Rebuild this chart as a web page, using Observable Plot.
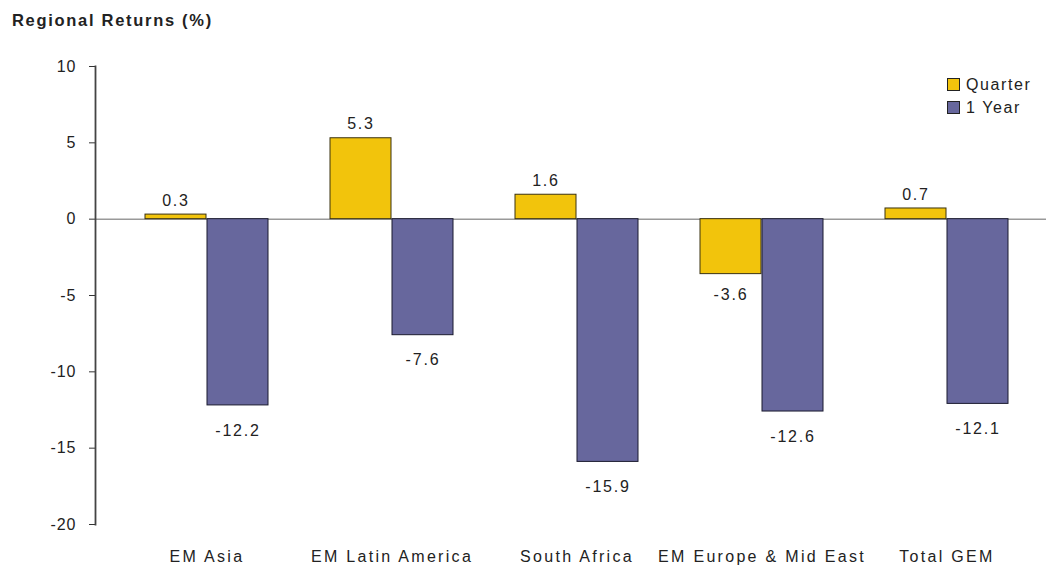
<!DOCTYPE html>
<html>
<head>
<meta charset="utf-8">
<script src="https://cdn.jsdelivr.net/npm/d3@7"></script>
<script src="https://cdn.jsdelivr.net/npm/@observablehq/plot@0.6"></script>
<style>
  html, body { margin: 0; padding: 0; background: #fff; }
  #wrap { position: relative; width: 1046px; height: 569px; font-family: "Liberation Sans", Arial, sans-serif; }
  #title { position: absolute; left: 12px; top: 11px; font-size: 16.5px; font-weight: bold; color: #222; letter-spacing: 1.7px; }
  #legend { position: absolute; left: 947px; top: 73px; font-size: 16px; color: #222; letter-spacing: 1.6px; }
  .li { display: flex; align-items: center; height: 23px; }
  .sw { width: 11px; height: 11px; border: 1px solid #222; margin-right: 6px; }
  #chart { position: absolute; left: 0; top: 0; }
  #chart svg text { letter-spacing: 1.8px; }
  #chart svg g[aria-label="x-axis tick label"] text { letter-spacing: 2.3px; }
  #chart svg g[aria-label="y-axis tick label"] text { letter-spacing: 1px; }
</style>
</head>
<body>
<div id="wrap">
  <div id="chart"></div>
  <div id="title">Regional Returns (%)</div>
  <div id="legend"></div>
</div>
<script>
const categories = ["EM Asia", "EM Latin America", "South Africa", "EM Europe & Mid East", "Total GEM"];
const seriesNames = ["Quarter", "1 Year"];
const quarterValues = [0.3, 5.3, 1.6, -3.6, 0.7];
const yearValues = [-12.2, -7.6, -15.9, -12.6, -12.1];
const yTicks = [10, 5, 0, -5, -10, -15, -20];
const colors = ["#F2C40C", "#67679D"];

const data = [];
categories.forEach((c, i) => {
  data.push({category: c, series: seriesNames[0], value: quarterValues[i]});
  data.push({category: c, series: seriesNames[1], value: yearValues[i]});
});
const q = data.filter(d => d.series === "Quarter");
const yr = data.filter(d => d.series === "1 Year");
const fmt = d => d.value.toFixed(1);

const chart = Plot.plot({
  width: 1046,
  height: 569,
  marginLeft: 95,
  marginRight: 0,
  marginTop: 66,
  marginBottom: 45,
  style: {fontFamily: "Liberation Sans, Arial, sans-serif", fontSize: "16px", color: "#222", background: "#fff"},
  x: {domain: categories, paddingInner: 0.333, paddingOuter: 0.226, align: 0.571, label: null},
  y: {domain: [-20, 10], ticks: yTicks, label: null},
  color: {domain: seriesNames, range: colors},
  marks: [
    Plot.ruleY([0], {stroke: "#999", strokeWidth: 1.5}),
    Plot.barY(q, {x: "category", y: "value", fill: "series", stroke: "#3a3210", strokeWidth: 1, insetRight: 62}),
    Plot.barY(yr, {x: "category", y: "value", fill: "series", stroke: "#1a1a2e", strokeWidth: 1, insetLeft: 62}),
    Plot.text(data.filter(d => d.series === "Quarter" && d.value >= 0), {x: "category", y: "value", text: fmt, dx: -31, dy: -14, fontSize: 16, fill: "#222"}),
    Plot.text(data.filter(d => d.series === "Quarter" && d.value < 0), {x: "category", y: "value", text: fmt, dx: -31, dy: 21, fontSize: 16, fill: "#222"}),
    Plot.text(data.filter(d => d.series === "1 Year" && d.value < 0), {x: "category", y: "value", text: fmt, dx: 31, dy: 25, fontSize: 16, fill: "#222"}),
    Plot.axisY({ticks: yTicks, tickSize: 6, tickPadding: 13, tickFormat: d => String(d), fontSize: 16, label: null, stroke: "#333"}),
    Plot.frame({anchor: "left", stroke: "#444", strokeWidth: 1.8}),
    Plot.axisX({tickSize: 0, tickPadding: 26, fontSize: 16, label: null})
  ]
});
document.getElementById("chart").appendChild(chart);

const legend = document.getElementById("legend");
seriesNames.forEach((s, i) => {
  const row = document.createElement("div");
  row.className = "li";
  const sw = document.createElement("div");
  sw.className = "sw";
  sw.style.background = colors[i];
  const t = document.createElement("span");
  t.textContent = s;
  row.appendChild(sw);
  row.appendChild(t);
  legend.appendChild(row);
});
</script>
</body>
</html>
